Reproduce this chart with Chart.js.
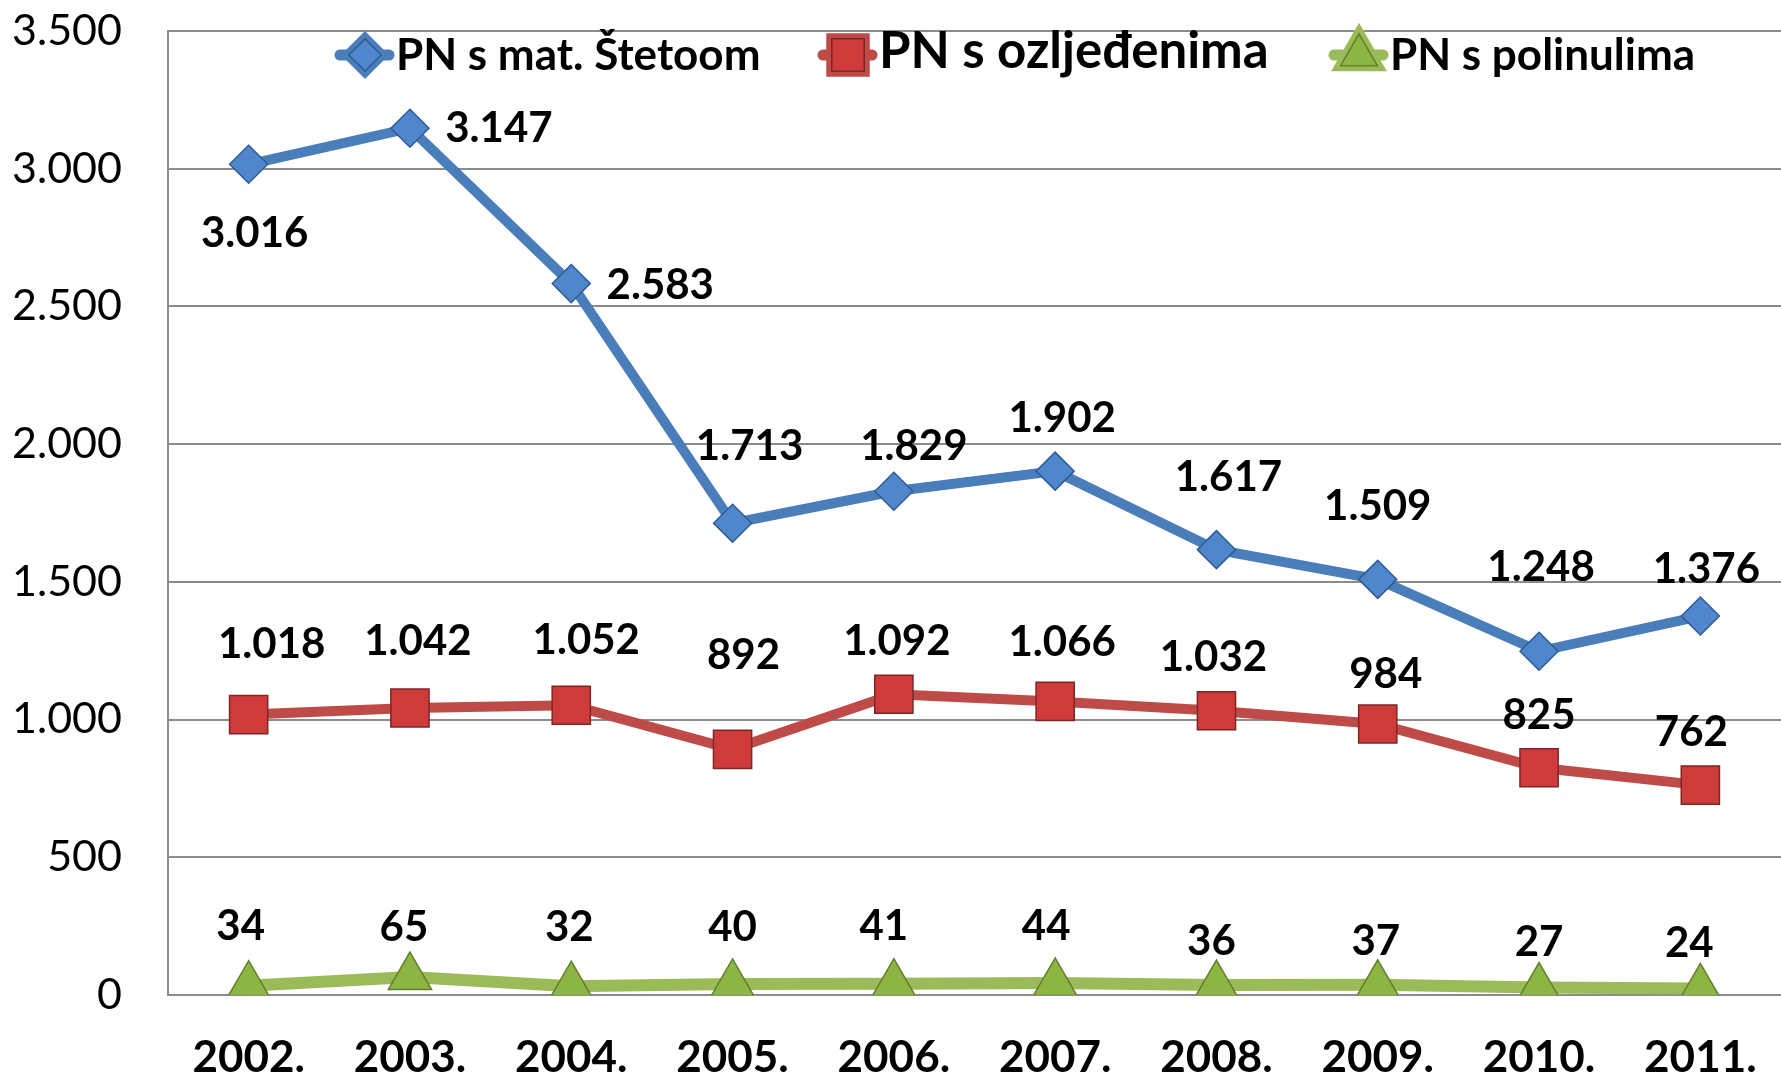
<!DOCTYPE html>
<html>
<head>
<meta charset="utf-8">
<script src="https://cdn.jsdelivr.net/npm/chart.js@4.4.0/dist/chart.umd.min.js"></script>
<style>
  html, body { margin: 0; padding: 0; background: #fff; }
  #wrap { width: 1781px; height: 1077px; }
</style>
</head>
<body>
<div id="wrap"><canvas id="chart" width="1781" height="1077"></canvas></div>
<script>
// Chart data
const years = ["2002.", "2003.", "2004.", "2005.", "2006.", "2007.", "2008.", "2009.", "2010.", "2011."];
const materijalnaSteta = [3016, 3147, 2583, 1713, 1829, 1902, 1617, 1509, 1248, 1376];
const ozlijedeni = [1018, 1042, 1052, 892, 1092, 1066, 1032, 984, 825, 762];
const poginuli = [34, 65, 32, 40, 41, 44, 36, 37, 27, 24];
const seriesNames = ["PN s mat. Štetoom", "PN s ozljeđenima", "PN s polinulima"];

// Where each value label sits relative to its point (px)
const blueLabelOffsets = [[6, 69], [89, 0], [89, 2], [17, -77], [20, -45], [7, -53], [12, -72], [0, -73], [2, -84], [6, -47]];
const redLabelOffsets = [[23, -70], [8, -67], [15, -65], [11, -94], [3, -53], [7, -59], [-3, -53], [8, -50], [0, -52], [-9, -53]];
const greenLabelOffsets = [[-8, -59], [-6, -50], [-2, -59], [0, -57], [-10, -57], [-9, -56], [-5, -44], [-2, -43], [0, -45], [-11, -45]];

// Legend layout (the middle entry is set larger in the original)
const legendX = [335, 818, 1329];
const legendFontSize = [44, 51, 44];
const legendTextY = [56, 52, 56];

const FONT = "Lato, 'Open Sans', sans-serif";

// Croatian number format: 3.016
function fmt(n) {
  return String(n).replace(/\B(?=(\d{3})+(?!\d))/g, ".");
}

// Draws value labels next to every point
const valueLabels = {
  id: "valueLabels",
  afterDatasetsDraw(chart) {
    const ctx = chart.ctx;
    ctx.save();
    ctx.font = "bold 42px " + FONT;
    ctx.fillStyle = "#000";
    ctx.textAlign = "center";
    ctx.textBaseline = "middle";
    chart.data.datasets.forEach((ds, i) => {
      const meta = chart.getDatasetMeta(i);
      meta.data.forEach((pt, j) => {
        const off = ds.labelOffsets[j];
        ctx.fillText(fmt(ds.data[j]), pt.x + off[0], pt.y + off[1]);
      });
    });
    ctx.restore();
  }
};

// Legend drawn inside the plot area: line + marker + bold text
const lineLegend = {
  id: "lineLegend",
  afterDraw(chart) {
    const ctx = chart.ctx;
    const y = 55;
    ctx.save();
    ctx.textBaseline = "middle";
    chart.data.datasets.forEach((ds, i) => {
      const x = legendX[i];
      // line swatch
      ctx.strokeStyle = ds.borderColor;
      ctx.lineWidth = 11;
      ctx.lineCap = "round";
      ctx.beginPath();
      ctx.moveTo(x + 5, y);
      ctx.lineTo(x + 54, y);
      ctx.stroke();
      // marker
      Chart.helpers.drawPoint(ctx, {
        pointStyle: ds.pointStyle,
        radius: ds.pointRadius * 0.85,
        borderWidth: 1.5,
        rotation: 0
      }, x + 30, y);
      ctx.fillStyle = ds.pointBackgroundColor;
      ctx.strokeStyle = ds.pointBorderColor;
      ctx.lineWidth = 1.5;
      ctx.fill();
      ctx.stroke();
      // text
      ctx.font = "bold " + legendFontSize[i] + "px " + FONT;
      ctx.fillStyle = "#000";
      ctx.fillText(ds.label, x + 61, legendTextY[i]);
    });
    ctx.restore();
  }
};

new Chart(document.getElementById("chart"), {
  type: "line",
  data: {
    labels: years,
    datasets: [
      {
        label: seriesNames[0],
        data: materijalnaSteta,
        labelOffsets: blueLabelOffsets,
        borderColor: "#4A7EBB",
        borderWidth: 10,
        pointStyle: "rectRot",
        pointRadius: 19,
        pointBackgroundColor: "#4F86CC",
        pointBorderColor: "#2E5C95",
        pointBorderWidth: 1.5
      },
      {
        label: seriesNames[1],
        data: ozlijedeni,
        labelOffsets: redLabelOffsets,
        borderColor: "#BE4B48",
        borderWidth: 10,
        pointStyle: "rect",
        pointRadius: 27,
        pointBackgroundColor: "#CF3B3B",
        pointBorderColor: "#7D2725",
        pointBorderWidth: 1.5
      },
      {
        label: seriesNames[2],
        data: poginuli,
        labelOffsets: greenLabelOffsets,
        borderColor: "#9BBB59",
        borderWidth: 12,
        pointStyle: "triangle",
        pointRadius: 25,
        pointBackgroundColor: "#8DB543",
        pointBorderColor: "#627F2C",
        pointBorderWidth: 1.5
      }
    ]
  },
  options: {
    responsive: false,
    animation: false,
    layout: { autoPadding: false, padding: { top: 31, right: 0, left: 0, bottom: 0 } },
    plugins: {
      legend: { display: false },
      tooltip: { enabled: false }
    },
    elements: { line: { tension: 0 } },
    scales: {
      x: {
        offset: true,
        grid: { display: false, drawTicks: false },
        border: { display: true, color: "#8C8C8C", width: 2 },
        ticks: {
          padding: 36,
          color: "#000",
          maxRotation: 0,
          font: { family: FONT, size: 44, weight: "bold" }
        },
        afterFit(scale) {
          scale.height = 82;
          scale.paddingLeft = 0;
          scale.paddingRight = 0;
        }
      },
      y: {
        min: 0,
        max: 3500,
        grid: { color: "#8C8C8C", lineWidth: 2, drawTicks: false },
        border: { display: true, color: "#8C8C8C", width: 2 },
        ticks: {
          stepSize: 500,
          padding: 46,
          color: "#000",
          font: { family: FONT, size: 43 },
          callback: (v) => fmt(v)
        },
        afterFit(scale) {
          scale.width = 168;
          scale.paddingTop = 0;
          scale.paddingBottom = 0;
        }
      }
    }
  },
  plugins: [valueLabels, lineLegend]
});
</script>
</body>
</html>
